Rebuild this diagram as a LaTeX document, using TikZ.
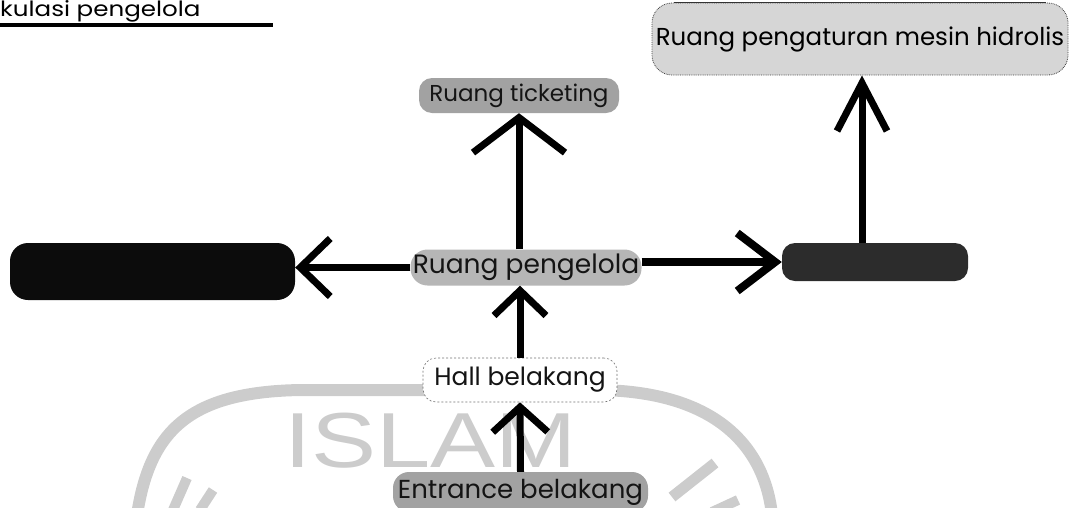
\documentclass[tikz,border=0pt]{standalone}
\usepackage{fontspec}
\setmainfont{Poppins}
\newfontfamily\wmfont{Liberation Sans}
\usetikzlibrary{arrows.meta}
\definecolor{wm}{HTML}{CCCCCC}
\definecolor{lightfill}{HTML}{D6D6D6}
\definecolor{midfill}{HTML}{A2A2A2}
\definecolor{pengfill}{HTML}{B6B6B6}
\definecolor{darkfill}{HTML}{2C2C2C}
\definecolor{blackfill}{HTML}{0C0C0C}
\definecolor{txt}{HTML}{141414}
\tikzset{
  roombox/.style={shape=rectangle, inner sep=0pt, align=center,
    font=\fontsize{25pt}{27pt}\selectfont, text=txt},
  arr/.style 2 args={line width=7pt, -{Straight Barb[length=#1,width=#2]}},
  wmline/.style={draw=wm, line width=12pt},
}
\begin{document}
\begin{tikzpicture}[x=1pt,y=-1pt]
\useasboundingbox (0,0) rectangle (1071,507);
% watermark
\draw[wmline] (137,515) .. controls (150,430) and (190,392) .. (300,390) -- (600,390) .. controls (720,392) and (765,450) .. (772,515);
\node[wm, anchor=base west, inner sep=0pt, xscale=1.25, font=\wmfont\fontsize{78pt}{78pt}\selectfont] (wmtext) at (284,467) {ISLAM};
\draw[draw=wm, line width=11pt] (672,497) -- (715,463);
\draw[draw=wm, line width=10pt] (712,512) -- (738,500);
\draw[draw=wm, line width=10pt] (173,510) -- (187,478);
\draw[draw=wm, line width=10pt] (200,510) -- (213,490);
% title
\node[anchor=base west, inner sep=0pt, xscale=1.17, font=\fontsize{21pt}{23pt}\selectfont] (title) at (0,16) {kulasi pengelola};
\coordinate (ulA) at (0,25);
\coordinate (ulB) at (273,25);
\draw[line width=4pt] (ulA) -- (ulB);
% boxes
\node[roombox, minimum width=416pt, minimum height=72pt, rounded corners=20pt,
  fill=lightfill, draw=black!75, densely dotted, line width=0.8pt, text=black,
  font=\fontsize{24.5pt}{26pt}\selectfont] (hid) at (860,39) {Ruang pengaturan mesin hidrolis};
\draw[black!80, line width=1.6pt] ([xshift=22pt]hid.north west) -- ([xshift=-22pt]hid.north east);
\node[roombox, minimum width=200pt, minimum height=35pt, rounded corners=13pt,
  fill=midfill, font=\fontsize{23pt}{25pt}\selectfont] (tick) at (519,95.5) {Ruang ticketing};
\node[roombox, minimum width=231pt, minimum height=36pt, rounded corners=17pt,
  fill=pengfill, font=\fontsize{26.5pt}{28pt}\selectfont] (peng) at (526,267.5) {Ruang pengelola};
\node[roombox, minimum width=285pt, minimum height=57pt, rounded corners=18pt,
  fill=blackfill] (left) at (152.5,271.5) {};
\node[roombox, minimum width=186pt, minimum height=38pt, rounded corners=13pt,
  fill=darkfill] (right) at (875,262) {};
\node[roombox, minimum width=194pt, minimum height=44pt, rounded corners=13pt,
  fill=white, draw=black!55, dash pattern=on 2pt off 2pt, line width=0.6pt,
  font=\fontsize{25pt}{27pt}\selectfont] (hall) at (520,380) {Hall belakang};
\node[roombox, minimum width=255pt, minimum height=40pt, rounded corners=16pt,
  fill=midfill, font=\fontsize{26pt}{28pt}\selectfont] (ent) at (520.5,492) {Entrance belakang};
% connectors
\draw[arr={35pt}{92pt}] (peng.north -| tick.south) -- (tick.south);
\draw[arr={30pt}{58pt}] (peng.west) -- (peng.west -| left.east);
\draw[arr={38pt}{58pt}, line width=8pt] (right.west -| peng.east) -- (right.west);
\draw[arr={48pt}{50pt}] ([xshift=-13pt]right.north) -- ([xshift=-13pt]right.north |- hid.south);
\draw[arr={25pt}{52pt}] (hall.north) -- (hall.north |- peng.south);
\draw[arr={25pt}{55pt}] (ent.north) -- (hall.south);
\end{tikzpicture}
\end{document}
